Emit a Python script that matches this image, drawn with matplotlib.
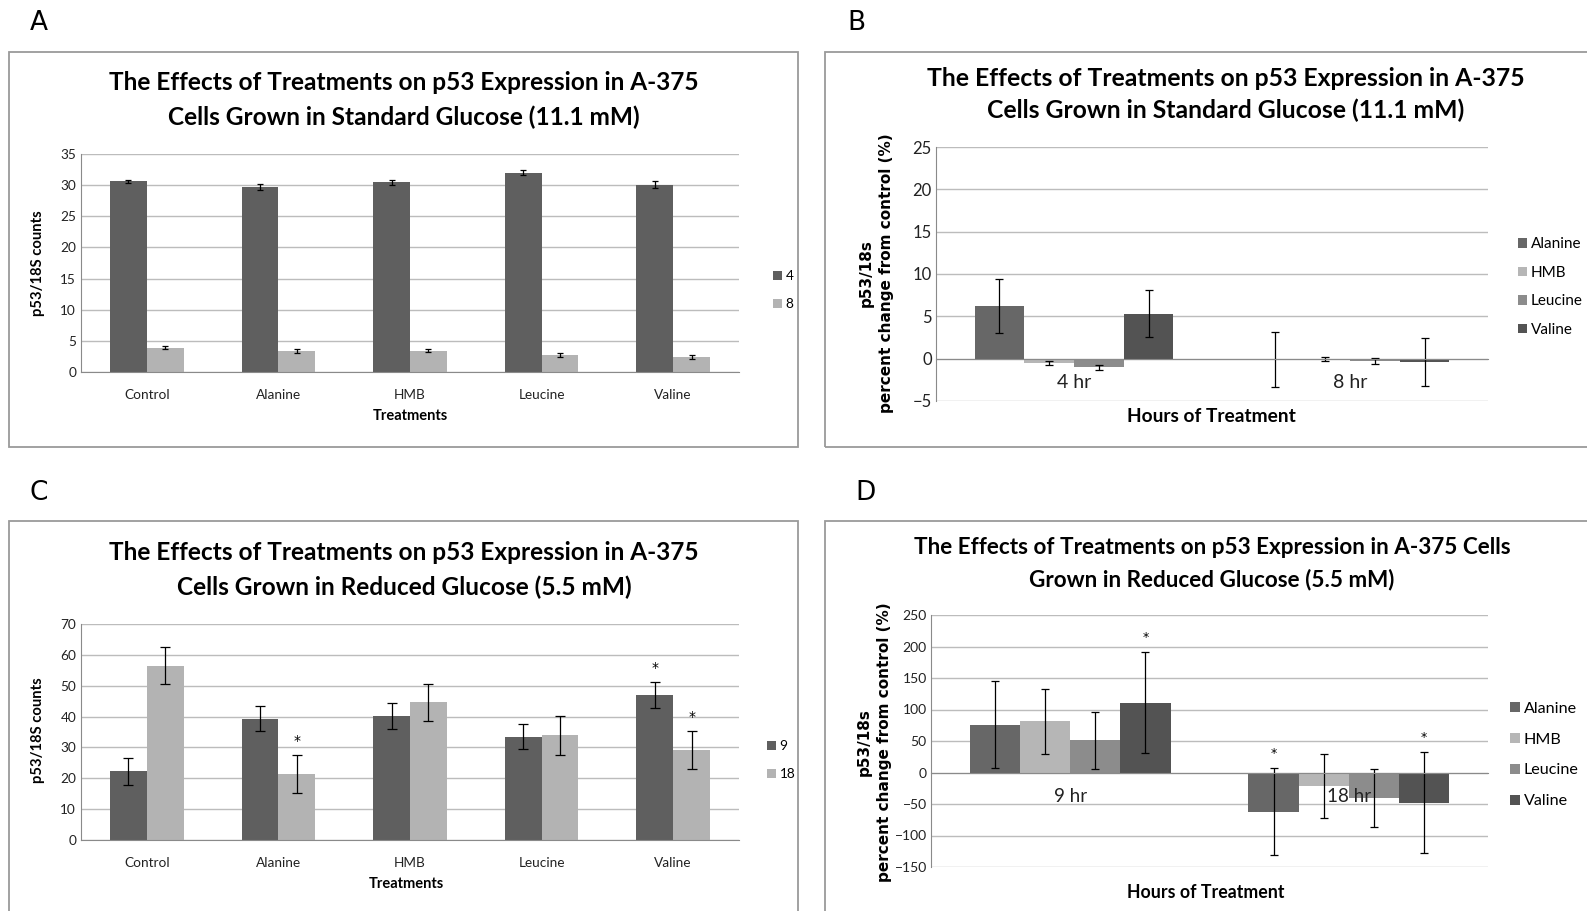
import matplotlib
matplotlib.use("Agg")
import matplotlib.pyplot as plt
from matplotlib.patches import Rectangle
import numpy as np

W, H = 1587, 911

# ---- data ----
treatments = ["Control", "Alanine", "HMB", "Leucine", "Valine"]

# A: standard glucose, counts by hour
a_labels = ["4", "8"]
a_h4 = [30.6, 29.7, 30.5, 32.0, 30.1]
a_h4_err = [0.3, 0.5, 0.4, 0.4, 0.5]
a_h8 = [3.9, 3.4, 3.4, 2.7, 2.4]
a_h8_err = [0.25, 0.3, 0.25, 0.3, 0.3]

# C: reduced glucose, counts by hour
c_labels = ["9", "18"]
c_h9 = [22.2, 39.3, 40.2, 33.5, 47.0]
c_h9_err = [4.3, 4.0, 4.1, 4.1, 4.2]
c_h18 = [56.5, 21.3, 44.6, 33.9, 29.2]
c_h18_err = [6.0, 6.2, 6.1, 6.2, 6.1]
c_sig = [(1, 1), (4, 0), (4, 1)]  # (treatment, series) marked *

# B: standard glucose, percent change from control
amino = ["Alanine", "HMB", "Leucine", "Valine"]
b_hours = ["4 hr", "8 hr"]
b_alanine = [6.2, -0.1]
b_alanine_err = [3.2, 3.2]
b_hmb = [-0.55, -0.05]
b_hmb_err = [0.25, 0.2]
b_leucine = [-1.0, -0.3]
b_leucine_err = [0.3, 0.35]
b_valine = [5.3, -0.4]
b_valine_err = [2.8, 2.85]

# D: reduced glucose, percent change from control
d_hours = ["9 hr", "18 hr"]
d_alanine = [76, -62]
d_alanine_err = [69, 69]
d_hmb = [81, -21]
d_hmb_err = [51, 51]
d_leucine = [51, -41]
d_leucine_err = [45, 46]
d_valine = [111, -48]
d_valine_err = [80, 80]
d_sig = [(0, 3), (1, 0), (1, 3)]  # (hour, amino acid) marked *

DARK = "#5f5f5f"; LIGHT = "#b3b3b3"
AMINO_C = ["#676767", "#b6b6b6", "#8c8c8c", "#535353"]
GRID = "#bcbcbc"; SPINE = "#8a8a8a"
CAL = ["Lato", "DejaVu Sans"]

fig = plt.figure(figsize=(W/100, H/100), dpi=100)

def px_axes(l, t, r, b):
    return fig.add_axes([l/W, 1-b/H, (r-l)/W, (b-t)/H])

def fig_text(x, y, s, **kw):
    fig.text(x/W, 1-y/H, s, ha="center", va="center", **kw)

def frame(l, t, r, b):
    fig.patches.append(Rectangle((l/W, 1-b/H), (r-l)/W, (b-t)/H, transform=fig.transFigure,
                                 fill=False, ec="#9a9a9a", lw=1.3))

def style(ax, fs):
    ax.spines["top"].set_visible(False)
    ax.spines["right"].set_visible(False)
    ax.spines["left"].set_color(SPINE)
    ax.spines["bottom"].set_color(SPINE)
    ax.yaxis.grid(True, color=GRID, lw=1)
    ax.set_axisbelow(True)
    ax.tick_params(length=0, labelsize=fs, colors="#222222")
    for t in ax.get_xticklabels() + ax.get_yticklabels():
        t.set_family(CAL)

# panel frames and letters
frame(9, 52, 798, 447); frame(825, 52, 1600, 447)
frame(9, 521, 798, 930); frame(825, 521, 1600, 930)
for s, x, y in [("A", 39, 23), ("B", 856, 23), ("C", 39, 493), ("D", 866, 493)]:
    fig_text(x, y, s, fontsize=19, family="DejaVu Sans")

def count_panel(box, s1, e1, s2, e2, labels, ymax, ystep, sig, leg_xy, capsize):
    ax = px_axes(*box)
    x = np.arange(len(treatments)); w = 0.28
    ax.bar(x - w/2, s1, w, color=DARK, label=labels[0])
    ax.bar(x + w/2, s2, w, color=LIGHT, label=labels[1])
    ax.errorbar(x - w/2, s1, yerr=e1, fmt="none", ecolor="black", elinewidth=0.9, capsize=capsize, capthick=0.9)
    ax.errorbar(x + w/2, s2, yerr=e2, fmt="none", ecolor="black", elinewidth=0.9, capsize=capsize, capthick=0.9)
    for i, k in sig:
        v = (s1, s2)[k][i] + (e1, e2)[k][i]
        ax.annotate("*", (x[i] + (k - 0.5)*w, v), xytext=(0, 5), textcoords="offset points",
                    ha="center", va="bottom", fontsize=10)
    ax.set_xlim(-0.5, len(treatments) - 0.5)
    ax.set_ylim(0, ymax)
    ax.set_yticks(np.arange(0, ymax + 1, ystep))
    ax.set_xticks(x); ax.set_xticklabels(treatments)
    ax.tick_params(axis="x", pad=12)
    style(ax, 9.8)
    ax.legend(loc="center left", bbox_to_anchor=(leg_xy[0]/W, 1-leg_xy[1]/H), bbox_transform=fig.transFigure,
              frameon=False, borderpad=0, handlelength=0.65, handleheight=0.65, handletextpad=0.3,
              labelspacing=1.2, prop={"family": CAL, "size": 9.8})
    return ax

def change_panel(box, hours, series, errs, ymin, ymax, ystep, sig, leg_xy, fs, xfs, legfs, lspace):
    ax = px_axes(*box)
    x = np.arange(len(hours)); w = 0.18
    for j, (v, e) in enumerate(zip(series, errs)):
        pos = x + (j - 1.5)*w
        ax.bar(pos, v, w, color=AMINO_C[j], label=amino[j])
        ax.errorbar(pos, v, yerr=e, fmt="none", ecolor="black", elinewidth=0.9, capsize=3, capthick=0.9)
    for i, j in sig:
        ax.annotate("*", (x[i] + (j - 1.5)*w, series[j][i] + errs[j][i]), xytext=(0, 6),
                    textcoords="offset points", ha="center", va="bottom", fontsize=9)
    ax.set_xlim(-0.5, len(hours) - 0.5)
    ax.set_ylim(ymin, ymax)
    ax.set_yticks(np.arange(ymin, ymax + 1, ystep))
    ax.spines["bottom"].set_position(("data", 0))
    ax.set_xticks(x); ax.set_xticklabels(hours)
    style(ax, fs)
    ax.xaxis.set_zorder(3)  # hour labels sit over the bars, as in Excel
    ax.tick_params(axis="x", pad=11, labelsize=xfs)
    ax.tick_params(axis="y", pad=3)
    ax.legend(loc="center left", bbox_to_anchor=(leg_xy[0]/W, 1-leg_xy[1]/H), bbox_transform=fig.transFigure,
              frameon=False, borderpad=0, handlelength=0.6, handleheight=0.6, handletextpad=0.25,
              labelspacing=lspace, prop={"family": CAL, "size": legfs})
    return ax

# ---- A ----
count_panel((81, 154, 739, 372), a_h4, a_h4_err, a_h8, a_h8_err, a_labels, 35, 5, [], (766, 290), 2.5)
fig_text(404, 83, "The Effects of Treatments on p53 Expression in A-375", fontsize=17.6, fontweight="bold", family=CAL)
fig_text(404, 117, "Cells Grown in Standard Glucose (11.1 mM)", fontsize=17.6, fontweight="bold", family=CAL)
fig_text(410, 416, "Treatments", fontsize=10.5, fontweight="bold", family=CAL)
fig_text(38, 263, "p53/18S counts", fontsize=10.6, fontweight="bold", family=CAL, rotation=90)

# ---- C ----
count_panel((81, 624, 739, 840), c_h9, c_h9_err, c_h18, c_h18_err, c_labels, 70, 10, c_sig, (760, 760), 3.5)
fig_text(404, 553, "The Effects of Treatments on p53 Expression in A-375", fontsize=17.6, fontweight="bold", family=CAL)
fig_text(404, 587, "Cells Grown in Reduced Glucose (5.5 mM)", fontsize=17.6, fontweight="bold", family=CAL)
fig_text(406, 884, "Treatments", fontsize=10.5, fontweight="bold", family=CAL)
fig_text(38, 730, "p53/18S counts", fontsize=10.6, fontweight="bold", family=CAL, rotation=90)

# ---- B ----
change_panel((936, 147, 1488, 401), b_hours,
             [b_alanine, b_hmb, b_leucine, b_valine],
             [b_alanine_err, b_hmb_err, b_leucine_err, b_valine_err],
             -5, 25, 5, [], (1510, 287), 12, 14, 11, 0.95)
fig_text(1226, 79, "The Effects of Treatments on p53 Expression in A-375", fontsize=17.8, fontweight="bold", family=CAL)
fig_text(1226, 110, "Cells Grown in Standard Glucose (11.1 mM)", fontsize=17.8, fontweight="bold", family=CAL)
fig_text(1211, 417, "Hours of Treatment", fontsize=13.8, fontweight="bold", family=CAL)
fig_text(876, 273, "p53/18s\npercent change from control (%)", fontsize=11, fontweight="bold",
         family="DejaVu Sans", rotation=90, linespacing=1.45)

# ---- D ----
change_panel((931, 615, 1488, 867), d_hours,
             [d_alanine, d_hmb, d_leucine, d_valine],
             [d_alanine_err, d_hmb_err, d_leucine_err, d_valine_err],
             -150, 250, 50, d_sig, (1502, 755), 10, 13.5, 11.6, 1.05)
fig_text(1212, 548, "The Effects of Treatments on p53 Expression in A-375 Cells", fontsize=16.2, fontweight="bold", family=CAL)
fig_text(1212, 580, "Grown in Reduced Glucose (5.5 mM)", fontsize=16.2, fontweight="bold", family=CAL)
fig_text(1206, 892, "Hours of Treatment", fontsize=12.8, fontweight="bold", family=CAL)
fig_text(874, 742, "p53/18s\npercent change from control (%)", fontsize=11, fontweight="bold",
         family="DejaVu Sans", rotation=90, linespacing=1.45)

fig.savefig("out.png", dpi=100)
